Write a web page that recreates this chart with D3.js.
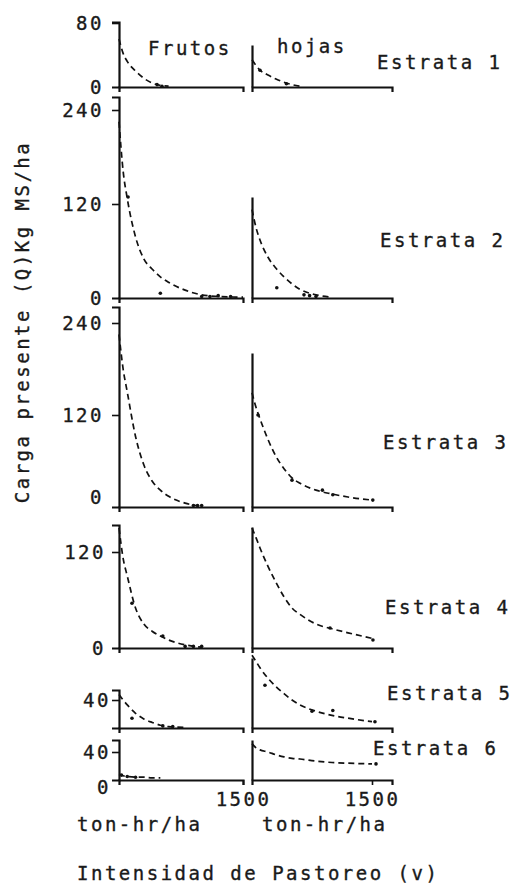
<!DOCTYPE html>
<html>
<head>
<meta charset="utf-8">
<script src="https://cdn.jsdelivr.net/npm/d3@7"></script>
<style>
  body { margin: 0; background: #fff; }
  svg text {
    font-family: "DejaVu Sans Mono", monospace;
    font-size: 19px;
    letter-spacing: 2.5px;
    fill: #1a1a1a;
    stroke: #1a1a1a;
    stroke-width: 0.35px;
  }
</style>
</head>
<body>
<svg id="chart" width="516" height="884"></svg>
<script>
// --- data ---
const estratas = ["Estrata 1", "Estrata 2", "Estrata 3", "Estrata 4", "Estrata 5", "Estrata 6"];
const partes = ["Frutos", "hojas"];

// intensidad de pastoreo (ton-hr/ha) where the fitted curves are sampled
const intensidad = [0, 50, 100, 200, 300, 400, 500, 600, 800, 1000, 1200, 1500];

// fitted curves, carga presente (kg MS/ha), null = curve already ended
const frutosCurva = [
  [60, 42, 32, 20, 11, 5, 2, 1, null, null, null, null],
  [225, 162, 127, 78, 50, 37, 27, 20, 10, 4, 2, 1],
  [225, 180, 150, 92, 55, 34, 22, 14, 5, 1, null, null],
  [150, 112, 90, 50, 30, 21, 15, 10, 4, 1, null, null],
  [48, 40, 33, 21, 13, 8, 4, 2, 1, null, null, null],
  [8, 6, 5, 4, 4, 3, 3, null, null, null, null, null],
];
const hojasCurva = [
  [34, 27, 21, 15, 10, 6, 3, 1, null, null, null, null],
  [113, 90, 74, 52, 38, 27, 18, 11, 4, 1, null, null],
  [149, 130, 115, 88, 66, 50, 38, 31, 22, 17, 13, 9],
  [150, 138, 125, 102, 82, 64, 50, 42, 30, 24, 19, 12],
  [104, 95, 86, 71, 59, 49, 40, 33, 24, 18, 14, 9],
  [52, 46, 43, 40, 36, 33, 31, 30, 27, 25, 24, 23],
];

// observed points [intensidad, carga]
const frutosObs = [
  [[460, 3], [520, 1]],
  [[110, 129], [500, 6], [1000, 2], [1100, 2], [1200, 3], [1350, 2]],
  [[900, 2], [950, 2], [1000, 2]],
  [[157, 56], [530, 15], [800, 2], [900, 2], [1000, 2]],
  [[157, 14], [530, 3], [650, 2]],
  [[30, 7], [100, 5], [200, 4]],
];
const hojasObs = [
  [[100, 21], [430, 4]],
  [[310, 13], [650, 4], [720, 3], [800, 2]],
  [[75, 120], [500, 35], [880, 22], [1010, 16], [1510, 9]],
  [[975, 25], [1512, 10]],
  [[162, 61], [750, 24], [1010, 25], [1537, 9]],
  [[1550, 23]],
];

const yTicks = [[0, 80], [0, 120, 240], [0, 120, 240], [0, 120], [40], [0, 40]];
const xTicks = [1500];

// --- layout (pixels) ---
const layout = [
  { base: 87, tick: 23, leftTop: 22, rightTop: 45, lx: 377, ly: 69, zeroDy: 0, pad: 8 },
  { base: 298, tick: 110, leftTop: 97, rightTop: 197, lx: 380, ly: 247, zeroDy: 0, pad: 8 },
  { base: 507, tick: 323, leftTop: 307, rightTop: 353, lx: 383, ly: 449, zeroDy: -10, pad: 8 },
  { base: 648, tick: 552, leftTop: 525, rightTop: 527, lx: 385, ly: 614, zeroDy: 0, pad: 6 },
  { base: 728, tick: 700, leftTop: 690, rightTop: 658, lx: 387, ly: 700, zeroDy: 0, pad: 1 },
  { base: 780, tick: 752, leftTop: 740, rightTop: 740, lx: 373, ly: 755, zeroDy: 7, pad: 1 },
];

const svg = d3.select("#chart");
const xL = d3.scaleLinear().domain([0, 1500]).range([119, 243]);
const xR = d3.scaleLinear().domain([0, 1750]).range([252, 392]);

const styleAxis = (g) => {
  g.select(".domain").attr("stroke", "#111").attr("stroke-width", 2.2);
  g.selectAll(".tick line").attr("stroke", "#111").attr("stroke-width", 1.6);
  g.selectAll(".tick text").attr("fill", "#1a1a1a");
};

const drawCurve = (g, x, y, vals) => {
  const line = d3
    .line()
    .defined((d) => d[1] !== null)
    .x((d) => x(d[0]))
    .y((d) => y(d[1]))
    .curve(d3.curveMonotoneX);
  g.append("path")
    .attr("d", line(intensidad.map((v, k) => [v, vals[k]])))
    .attr("fill", "none")
    .attr("stroke", "#111")
    .attr("stroke-width", 1.7)
    .attr("stroke-dasharray", "6,4");
};

const drawDots = (g, x, y, pts) => {
  g.selectAll("circle.obs")
    .data(pts)
    .join("circle")
    .attr("class", "obs")
    .attr("cx", (d) => x(d[0]))
    .attr("cy", (d) => y(d[1]))
    .attr("r", 1.8)
    .attr("fill", "#111");
};

const xAxis = (x, last) =>
  d3
    .axisBottom(x)
    .tickValues(last ? xTicks : [])
    .tickFormat(d3.format("d"))
    .tickSizeOuter(0)
    .tickSize(5)
    .tickPadding(8);

layout.forEach((p, i) => {
  const y = d3.scaleLinear().domain([0, d3.max(yTicks[i])]).range([p.base, p.tick]);
  const yL = y.copy().domain([0, y.invert(p.leftTop)]).range([p.base, p.leftTop]);
  const yR = y.copy().domain([0, y.invert(p.rightTop)]).range([p.base, p.rightTop]);
  const last = i === layout.length - 1;

  const panel = svg.append("g").attr("class", "estrata");

  // frutos (left)
  const left = panel.append("g");
  left
    .append("g")
    .attr("transform", `translate(0,${p.base})`)
    .call(xAxis(xL, last))
    .call(styleAxis);
  left
    .append("g")
    .attr("transform", `translate(${xL(0)},0)`)
    .call(d3.axisLeft(yL).tickValues(yTicks[i]).tickSizeOuter(0).tickSize(7).tickPadding(p.pad))
    .call(styleAxis)
    .call((g) => {
      g.selectAll(".tick").filter((d) => d === 0).select("line").remove();
      g.selectAll(".tick").filter((d) => d === 0).select("text").attr("y", p.zeroDy);
    });
  drawCurve(left, xL, y, frutosCurva[i]);
  drawDots(left, xL, y, frutosObs[i]);

  // hojas (right)
  const right = panel.append("g");
  right
    .append("g")
    .attr("transform", `translate(0,${p.base})`)
    .call(xAxis(xR, last))
    .call(styleAxis);
  right
    .append("g")
    .attr("transform", `translate(${xR(0)},0)`)
    .call(d3.axisLeft(yR).tickValues([]).tickSizeOuter(0))
    .call(styleAxis);
  drawCurve(right, xR, y, hojasCurva[i]);
  drawDots(right, xR, y, hojasObs[i]);

  panel.append("text").attr("x", p.lx).attr("y", p.ly).text(estratas[i]);
});

// column headers
svg.append("text").attr("x", 148).attr("y", 55).text(partes[0]);
svg.append("text").attr("x", 277).attr("y", 53).text(partes[1]);

// units under the x axes
svg.append("text").attr("x", 77).attr("y", 831).text("ton-hr/ha");
svg.append("text").attr("x", 262).attr("y", 831).text("ton-hr/ha");

svg.append("text").attr("x", 77).attr("y", 880).text("Intensidad de Pastoreo (v)");

svg
  .append("text")
  .attr("transform", "translate(29,322) rotate(-90)")
  .attr("text-anchor", "middle")
  .text("Carga presente (Q)Kg MS/ha");
</script>
</body>
</html>
